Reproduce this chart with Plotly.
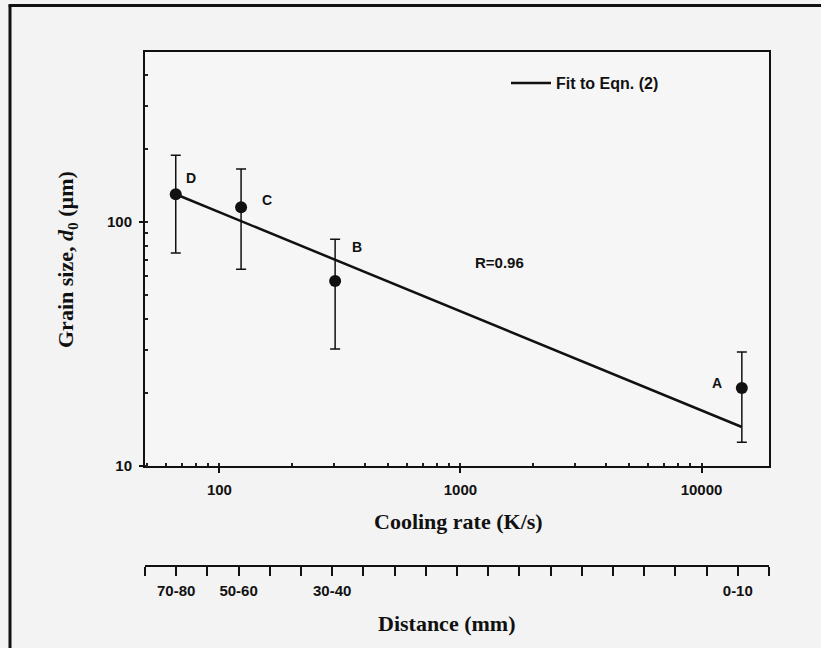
import numpy as np
import plotly.graph_objects as go

# ---- data ----
cooling_rate = [65.9, 123, 302, 14700]          # K/s
grain_size = [130, 115, 57.3, 20.9]             # um
err_plus = [58, 50, 27.7, 8.4]
err_minus = [55.4, 51, 27.1, 8.4]
point_labels = ["D", "C", "B", "A"]
label_x = [75.9, 157, 373, 11650]
label_y = [151, 123, 79, 21.9]

fit_x = [65.9, 14700]
fit_y = [130, 14.45]
fit_name = "Fit to Eqn. (2)"
r_text = "R=0.96"
r_pos = (1452, 68)

y_ticks = [10, 100]
x_ticks = [100, 1000, 10000]

distance_n_ticks = 21
distance_tick_idx = [1, 3, 6, 19]
distance_labels = ["70-80", "50-60", "30-40", "0-10"]

# ---- figure ----
W, H = 821, 648
ml, mr, mt, mb = 145, 52, 52, 40
ph = H - mt - mb
pw = W - ml - mr


def py(pix):
    return (H - mb - pix) / ph


def px(pix):
    return (pix - ml) / pw


INK = "#111111"
SANS = "Arial, Liberation Sans, sans-serif"
SERIF = "Liberation Serif, Times New Roman, serif"

fig = go.Figure()

fig.add_trace(go.Scatter(
    x=fit_x, y=fit_y, mode="lines", name=fit_name,
    line=dict(color=INK, width=2.5), showlegend=True))

fig.add_trace(go.Scatter(
    x=cooling_rate, y=grain_size, mode="markers", showlegend=False,
    marker=dict(color=INK, size=12),
    error_y=dict(type="data", array=err_plus, arrayminus=err_minus,
                 color=INK, thickness=1.5, width=5)))

# invisible trace to activate the distance axis
fig.add_trace(go.Scatter(x=[0, distance_n_ticks - 1], y=[0, 0], xaxis="x2", yaxis="y2",
                         mode="markers", marker=dict(opacity=0), showlegend=False,
                         hoverinfo="skip"))

tick_font = dict(family=SANS, size=15, color=INK, weight="bold")
title_font = dict(family=SERIF, size=22, color=INK, weight="bold")

minor = dict(ticks="inside", ticklen=3, tickcolor="#222222", dtick="D1", showgrid=False)

fig.update_layout(
    width=W, height=H,
    margin=dict(l=ml, r=mr, t=mt, b=mb),
    paper_bgcolor="#f3f3f3", plot_bgcolor="#f6f6f6",
    showlegend=True,
    legend=dict(x=px(506), y=py(83), xanchor="left", yanchor="middle",
                bgcolor="rgba(0,0,0,0)", itemwidth=40,
                font=dict(family=SANS, size=16, color=INK, weight="bold")),
    xaxis=dict(type="log", range=[1.6913, 4.280], domain=[0, 1],
               tickvals=x_ticks, ticktext=[str(v) for v in x_ticks],
               ticks="outside", ticklen=5, tickwidth=1.5, tickcolor=INK,
               showline=True, linecolor=INK, linewidth=2, mirror=True,
               showgrid=False, zeroline=False, tickfont=tick_font,
               ticklabelstandoff=4, minor=minor, anchor="y"),
    yaxis=dict(type="log", range=[1, 2.697], domain=[py(466), 1],
               tickvals=y_ticks, ticktext=[str(v) for v in y_ticks],
               ticks="outside", ticklen=4, tickwidth=1.5, tickcolor=INK,
               showline=True, linecolor=INK, linewidth=2, mirror=True,
               showgrid=False, zeroline=False, tickfont=tick_font,
               ticklabelstandoff=4, minor=minor, anchor="x"),
    xaxis2=dict(range=[0, distance_n_ticks - 1], domain=[0, 1], anchor="y2",
                tickvals=distance_tick_idx, ticktext=distance_labels,
                ticks="outside", ticklen=9, tickwidth=1.5, tickcolor=INK,
                minor=dict(ticks="outside", ticklen=9, tickwidth=1.5, tickcolor=INK,
                           tick0=0, dtick=1, showgrid=False),
                showline=True, linecolor=INK, linewidth=2,
                showgrid=False, zeroline=False, tickfont=tick_font,
                ticklabelstandoff=2),
    yaxis2=dict(domain=[py(565), py(564)], visible=False, anchor="x2"),
)

anns = []
for lx, ly, t in zip(label_x, label_y, point_labels):
    anns.append(dict(x=np.log10(lx), y=np.log10(ly), xref="x", yref="y", text=t,
                     showarrow=False, xanchor="center", yanchor="middle",
                     font=dict(family=SANS, size=14, color=INK, weight="bold")))
anns.append(dict(x=np.log10(r_pos[0]), y=np.log10(r_pos[1]), xref="x", yref="y",
                 text=r_text, showarrow=False, xanchor="center", yanchor="middle",
                 font=dict(family=SANS, size=15, color=INK, weight="bold")))
anns.append(dict(x=px(458), y=py(521), xref="paper", yref="paper",
                 xanchor="center", yanchor="middle",
                 text="Cooling rate (K/s)", showarrow=False, font=title_font))
anns.append(dict(x=px(446), y=py(623), xref="paper", yref="paper",
                 xanchor="center", yanchor="middle",
                 text="Distance (mm)", showarrow=False, font=title_font))
anns.append(dict(x=px(67), y=py(260), xref="paper", yref="paper",
                 xanchor="center", yanchor="middle",
                 text="Grain size, <i>d</i><sub>0</sub> (µm)", textangle=-90,
                 showarrow=False, font=title_font))
fig.update_layout(annotations=anns)

# scanned page frame (left and top edges)
fig.add_shape(type="line", xref="paper", yref="paper",
              x0=px(10), x1=px(10), y0=py(660), y1=py(5.5),
              line=dict(color=INK, width=3), layer="above")
fig.add_shape(type="line", xref="paper", yref="paper",
              x0=px(8.5), x1=px(830), y0=py(5.5), y1=py(5.5),
              line=dict(color=INK, width=3), layer="above")

fig.write_html("out.html", config={"displayModeBar": False},
               post_script="document.body.style.margin='0';document.body.style.overflow='hidden';")
